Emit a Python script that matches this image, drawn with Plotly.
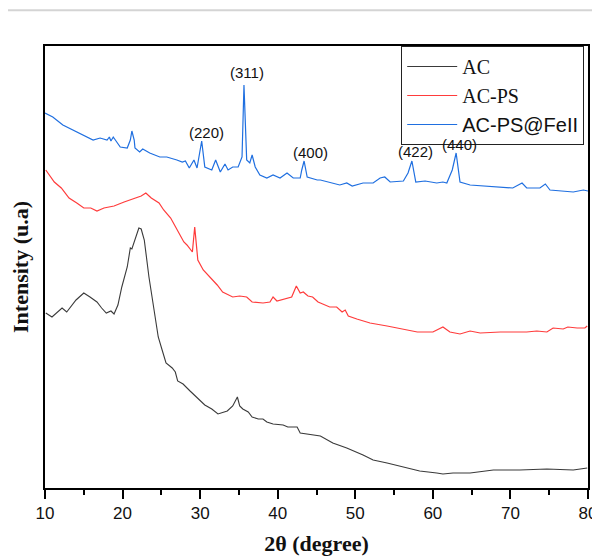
import plotly.graph_objects as go

# ---- data (2θ in degrees, intensity in arbitrary units) ----
ac_x = [10.1, 10.9, 12.2, 12.8, 14.0, 15.0, 15.8, 16.7, 17.3, 17.9, 18.5, 18.9, 19.4, 19.9,
        20.6, 21.0, 21.2, 21.7, 22.1, 22.4, 22.8, 23.4, 24.1, 24.4, 24.6, 25.1, 25.6, 26.4,
        26.8, 27.1, 27.8, 28.7, 29.7, 30.6, 31.5, 32.3, 33.5, 34.2, 34.8, 35.1, 35.5, 36.2,
        36.7, 37.5, 38.1, 38.6, 39.4, 40.7, 41.3, 42.0, 42.5, 42.9, 43.8, 45.1, 45.5, 47.1,
        48.9, 51.0, 52.3, 54.1, 56.2, 58.3, 60.5, 61.3, 62.6, 64.8, 67.8, 71.2, 74.7, 78.1, 79.9]
ac_y = [173, 169, 178, 174, 186, 193, 189, 184, 178, 173, 175, 172, 181, 199,
        219, 238, 237, 249, 258, 257, 246, 209, 173, 156, 149, 136, 123, 118,
        114, 105, 102, 95, 88, 81, 77, 72, 75, 80, 89, 80, 77, 74,
        69, 67, 67, 64, 62, 61, 59, 59, 59, 53, 52, 50, 50, 43,
        38, 31, 26, 23, 19, 15, 13, 12, 13, 13, 16, 16, 17, 16, 18]

acps_x = [10.1, 11.2, 12.1, 13.1, 14.1, 15.0, 15.9, 16.7, 17.6, 18.9, 20.2, 21.5, 22.4, 23.0,
          23.7, 24.7, 25.3, 26.2, 27.0, 27.9, 28.3, 29.0, 29.3, 29.7, 30.4, 31.3, 32.2, 32.9,
          34.2, 35.1, 36.0, 36.7, 38.1, 39.0, 39.4, 39.9, 41.2, 41.8, 42.4, 42.9, 43.3, 43.9,
          44.5, 45.2, 45.5, 46.7, 47.6, 48.3, 48.7, 49.1, 50.2, 51.9, 54.1, 56.2, 58.0, 60.0,
          61.3, 62.2, 63.5, 64.8, 66.1, 68.7, 72.1, 73.4, 74.7, 75.5, 76.8, 77.4, 78.6, 79.6, 79.9]
acps_y = [316, 304, 298, 288, 283, 278, 278, 275, 278, 280, 284, 288, 290, 293,
          288, 283, 276, 268, 256, 244, 241, 234, 259, 226, 216, 209, 201, 194,
          189, 190, 189, 184, 183, 184, 189, 185, 188, 189, 200, 193, 194, 190,
          189, 184, 183, 179, 179, 174, 176, 170, 167, 163, 160, 157, 154, 154,
          159, 154, 152, 155, 153, 154, 154, 155, 154, 158, 157, 159, 158, 158, 160]

fe_x = [10.0, 11.0, 12.3, 13.6, 14.9, 16.2, 17.1, 18.0, 18.3, 18.5, 18.8, 19.0, 19.7, 20.6,
        21.0, 21.2, 21.5, 21.6, 22.2, 22.6, 23.5, 24.8, 25.7, 27.0, 27.7, 28.1, 28.6, 29.2,
        29.6, 30.2, 30.6, 31.5, 32.0, 32.6, 33.2, 33.6, 34.2, 34.9, 35.4, 35.65, 36.0, 36.4,
        36.7, 37.1, 37.7, 38.6, 39.4, 40.3, 41.2, 42.0, 42.9, 43.1, 43.4, 43.8, 45.1, 45.5,
        48.0, 48.9, 49.6, 51.0, 52.3, 53.2, 53.8, 54.5, 56.2, 56.8, 57.3, 57.8, 59.0, 60.5,
        61.3, 61.8, 62.5, 63.0, 63.5, 64.8, 67.8, 70.3, 71.5, 72.1, 73.8, 74.5, 75.1, 76.8,
        78.1, 79.4, 80.0]
fe_y = [373, 369, 361, 356, 351, 346, 348, 346, 349, 345, 349, 347, 339, 338,
        346, 355, 346, 338, 334, 337, 333, 329, 329, 326, 324, 325, 318, 326,
        318, 345, 319, 316, 326, 314, 322, 316, 319, 319, 329, 401, 326, 323,
        331, 319, 311, 308, 311, 308, 313, 308, 308, 316, 325, 309, 306, 306,
        301, 303, 300, 303, 303, 308, 309, 304, 305, 313, 325, 304, 305, 303,
        304, 303, 316, 333, 304, 301, 299, 298, 303, 298, 298, 302, 296, 295,
        294, 296, 295]

hkl_labels = ["(220)", "(311)", "(400)", "(422)", "(440)"]
hkl_x = [30.8, 36.0, 44.2, 57.8, 63.4]
hkl_y = [354, 414, 334, 335, 342]

x_ticks = [10, 20, 30, 40, 50, 60, 70, 80]

fig = go.Figure()
fig.add_trace(go.Scatter(x=ac_x, y=ac_y, mode="lines", name="AC",
                         line=dict(color="#3a3a3a", width=1.1)))
fig.add_trace(go.Scatter(x=acps_x, y=acps_y, mode="lines", name="AC-PS",
                         line=dict(color="#ff3b3b", width=1.2)))
fig.add_trace(go.Scatter(x=fe_x, y=fe_y, mode="lines",
                         name='<span style="font-family:\'Liberation Sans\', Arial, sans-serif;font-size:20px">AC-PS@FeII</span>',
                         line=dict(color="#1f6fe0", width=1.2)))

for lab, lx, ly in zip(hkl_labels, hkl_x, hkl_y):
    fig.add_annotation(x=lx, y=ly, text=lab, showarrow=False, xanchor="center", yanchor="middle",
                       borderpad=0,
                       font=dict(family="Liberation Sans, Arial, sans-serif", size=15, color="#111111"))

# light grey rule across top of page
fig.add_shape(type="line", xref="paper", yref="paper", x0=-0.083, x1=1.022, y0=1.081, y1=1.081,
              line=dict(color="#d4d4d4", width=2))

# page body has an 8px margin: figure is 592x548 so the plot area lands at x 45-588, y 46-488
fig.update_layout(
    width=592, height=548,
    margin=dict(l=37, r=12, t=38, b=68, autoexpand=False),
    paper_bgcolor="white", plot_bgcolor="white",
    showlegend=True,
    legend=dict(x=0.993, xanchor="right", y=1.0, yanchor="top",
                bgcolor="white", bordercolor="#222222", borderwidth=1,
                font=dict(family="Liberation Serif, Times New Roman, serif", size=20, color="#111111"),
                itemwidth=50, tracegroupgap=0),
    xaxis=dict(range=[10, 80], tickvals=x_ticks, ticks="outside", ticklen=9, tickwidth=1.5,
               tickcolor="black", showline=True, linecolor="black", linewidth=1.8, mirror=True,
               showgrid=False, zeroline=False, automargin=False,
               minor=dict(dtick=5, ticks="outside", ticklen=5, tickwidth=1.5, tickcolor="black", showgrid=False),
               tickfont=dict(family="Liberation Sans, Arial, sans-serif", size=17, color="#111111"),
               title=dict(text="<b>2θ (degree)</b>", standoff=16,
                          font=dict(family="Liberation Serif, Times New Roman, serif", size=22, color="#111111"))),
    yaxis=dict(range=[-2, 440], showticklabels=False, ticks="", showline=True, linecolor="black",
               linewidth=1.8, mirror=True, showgrid=False, zeroline=False, automargin=False,
               title=dict(text="<b>Intensity (u.a)</b>", standoff=13,
                          font=dict(family="Liberation Serif, Times New Roman, serif", size=22, color="#111111"))),
)

fig.write_html("out.html")
